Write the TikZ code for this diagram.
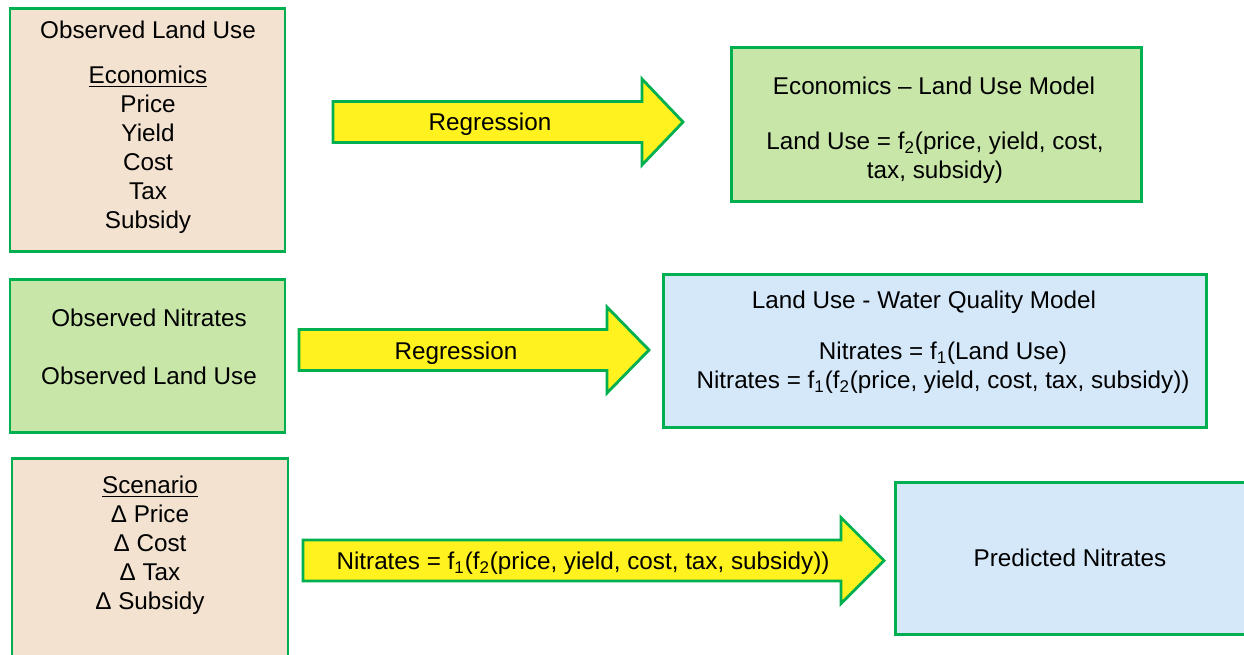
\documentclass[tikz,border=0pt]{standalone}
\usepackage{fontspec}
\setmainfont{Liberation Sans}
\usetikzlibrary{fit}
\definecolor{edgegreen}{HTML}{00B050}
\definecolor{tanfill}{HTML}{F3E2D0}
\definecolor{leaffill}{HTML}{C7E6A8}
\definecolor{skyfill}{HTML}{D4E8FA}
\definecolor{arrowyellow}{HTML}{FFF21E}
\tikzset{
  panel/.style={draw=edgegreen,line width=1.7pt,inner sep=0pt},
  flowarrow/.style={draw=edgegreen,fill=arrowyellow,line width=1.6pt,line join=miter},
  txt/.style={align=center,inner sep=0pt,text=black}
}
\begin{document}
\begin{tikzpicture}[x=0.02cm,y=-0.02cm,font=\fontsize{13.8}{16.5}\selectfont]
\clip (0,0) rectangle (1244,654);
\fill[white] (0,0) rectangle (1244,654);
\def\blockArrow#1#2#3#4{%
  \draw[flowarrow] (#1,#4-20.5) -- (#2,#4-20.5) -- (#2,#4-43) -- (#3,#4)
    -- (#2,#4+43) -- (#2,#4+20.5) -- (#1,#4+20.5) -- cycle;}
% boxes
\node[panel,fill=tanfill,fit={(10,8) (285,251)}] (obsLand) {};
\node[panel,fill=leaffill,fit={(731,47) (1141,201)}] (econModel) {};
\node[panel,fill=leaffill,fit={(10,279) (285,432)}] (obsNit) {};
\node[panel,fill=skyfill,fit={(663,274) (1206,427)}] (wqModel) {};
\node[panel,fill=tanfill,fit={(12,458) (288,656)}] (scenario) {};
\node[panel,fill=skyfill,fit={(895,482) (1250,634)}] (predNit) {};
% texts
\node[txt] (obsLandTxt) at (148,127) {Observed Land Use\\[9pt]\underline{Economics}\\Price\\Yield\\Cost\\Tax\\Subsidy};
\node[txt] (econTitle) at (934,85.5) {Economics – Land Use Model};
\node[txt] (econBody) at (935,158) {Land Use = f\textsubscript{2}(price, yield, cost,\\tax, subsidy)};
\node[txt] (obsNitTxt) at (149,347) {Observed Nitrates\\[16.5pt]Observed Land Use};
\node[txt] (wqTitle) at (924,302) {Land Use - Water Quality Model};
\node[txt] (wqBody) at (943,368) {Nitrates = f\textsubscript{1}(Land Use)\\Nitrates = f\textsubscript{1}(f\textsubscript{2}(price, yield, cost, tax, subsidy))};
\node[txt] (scenTxt) at (150,545) {\underline{Scenario}\\Δ Price\\Δ Cost\\Δ Tax\\Δ Subsidy};
\node[txt] (predTxt) at (1070,558) {Predicted Nitrates};
% block arrows
\blockArrow{333}{642}{683}{122}
\blockArrow{299}{607}{649}{350}
\blockArrow{303}{841}{884}{560.5}
\node[txt] (regEcon) at (490,124.5) {Regression};
\node[txt] (regWater) at (456,353.5) {Regression};
\node[txt] (predRule) at (583,563.5) {Nitrates = f\textsubscript{1}(f\textsubscript{2}(price, yield, cost, tax, subsidy))};
\end{tikzpicture}
\end{document}
